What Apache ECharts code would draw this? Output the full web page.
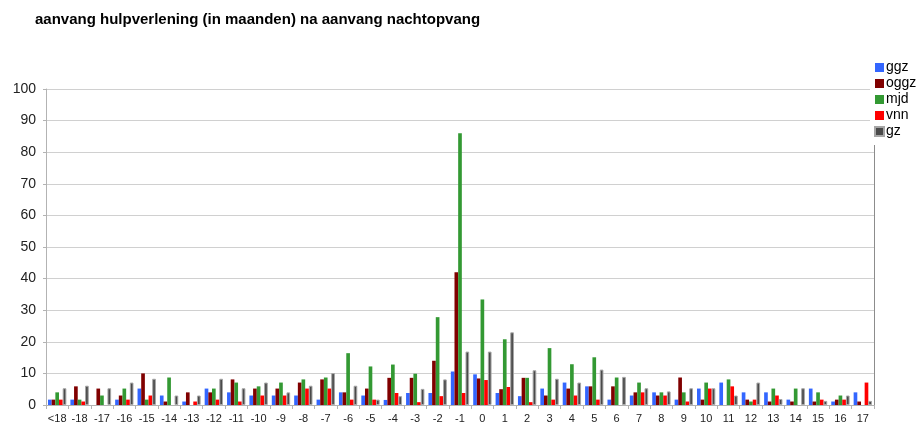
<!DOCTYPE html>
<html>
<head>
<meta charset="utf-8">
<script src="https://cdn.jsdelivr.net/npm/echarts@6/dist/echarts.min.js"></script>
<style>
  html, body { margin: 0; padding: 0; background: #fff; }
  #main { width: 922px; height: 427px; }
</style>
</head>
<body>
<div id="main"></div>
<script>
// maanden t.o.v. aanvang nachtopvang
const categories = ['<18', '-18', '-17', '-16', '-15', '-14', '-13', '-12', '-11', '-10', '-9', '-8', '-7', '-6', '-5', '-4', '-3', '-2', '-1',
  '0', '1', '2', '3', '4', '5', '6', '7', '8', '9', '10', '11', '12', '13', '14', '15', '16', '17'];

const ggz  = [1.7, 1.7, 0, 1.7, 5.2, 3, 1.1, 5.2, 4, 3, 3, 3, 1.7, 4, 3, 1.6, 3.8, 3.8, 10.6,
  9.7, 3.8, 2.8, 5.2, 7.1, 5.9, 1.7, 3, 4, 1.7, 5.2, 7.1, 4, 4, 1.7, 5.2, 1.1, 4];
const oggz = [1.7, 5.9, 5.2, 3, 10, 1.1, 4, 4, 8.1, 5.2, 5.2, 7.1, 8.1, 4, 5.2, 8.6, 8.6, 14, 42,
  8.4, 5, 8.6, 3, 5.2, 5.9, 5.9, 4, 3, 8.7, 1.7, 0, 1.7, 1.1, 1.1, 1.1, 1.7, 1.1];
const mjd  = [4, 1.7, 3, 5.2, 1.7, 8.7, 0, 5.2, 7.1, 5.9, 7.1, 8.1, 8.7, 16.4, 12.2, 12.8, 9.9, 27.8, 86,
  33.4, 20.8, 8.6, 18, 12.9, 15.1, 8.7, 7.1, 4, 4, 7.1, 8.1, 1.1, 5.2, 5.2, 4, 3, 0];
const vnn  = [1.7, 1.1, 0, 1.7, 3, 0, 1.1, 1.7, 1.1, 3, 3, 5.2, 5.2, 1.7, 1.7, 3.8, 0.9, 2.8, 3.8,
  7.9, 5.7, 0.9, 1.7, 3, 1.7, 0, 4, 3, 1.1, 5.2, 5.9, 1.7, 3, 0, 1.7, 1.7, 7.1];
const gz   = [5.3, 6.1, 5.3, 7.1, 8.3, 3, 3, 8.3, 5.3, 7.1, 4, 6.1, 10.1, 6.1, 1.7, 2.8, 5.1, 8.1, 16.9,
  16.9, 23, 11, 8.3, 7.1, 11.2, 8.9, 5.3, 4.3, 5.3, 5.3, 3, 7.1, 1.9, 5.3, 1.3, 3, 1.3];

const yTicks = { min: 0, max: 100, interval: 10 };

const chart = echarts.init(document.getElementById('main'));

function bar(name, data, color, extra) {
  return Object.assign({
    name: name,
    type: 'bar',
    data: data,
    barGap: '0%',
    barCategoryGap: '18%',
    itemStyle: { color: color },
    emphasis: { disabled: true }
  }, extra || {});
}

const option = {
  animation: false,
  textStyle: { fontFamily: '"Liberation Sans", Arial, sans-serif' },
  title: {
    text: 'aanvang hulpverlening (in maanden) na aanvang nachtopvang',
    left: 30,
    top: 7,
    textStyle: { fontSize: 15, fontWeight: 'bold', color: '#000' }
  },
  legend: {
    orient: 'vertical',
    left: 870,
    top: 57,
    padding: [3, 4, 6, 4],
    backgroundColor: '#fff',
    itemWidth: 9,
    itemHeight: 9,
    itemGap: 1,
    icon: 'rect',
    z: 10,
    textStyle: { fontSize: 14, color: '#000', padding: [0, 0, 0, -3], lineHeight: 15 },
    data: ['ggz', 'oggz', 'mjd', 'vnn', 'gz']
  },
  grid: { left: 46, right: 48, top: 89, bottom: 22, containLabel: false },
  xAxis: {
    type: 'category',
    data: categories,
    axisLine: { lineStyle: { color: '#b3b3b3', width: 1 } },
    axisTick: { show: true, length: 4, lineStyle: { color: '#b3b3b3' } },
    axisLabel: { fontSize: 11, color: '#222', margin: 8, interval: 0 }
  },
  yAxis: [{
    type: 'value',
    min: yTicks.min,
    max: yTicks.max,
    interval: yTicks.interval,
    axisLine: { show: true, lineStyle: { color: '#b3b3b3', width: 1 } },
    axisTick: { show: true, length: 3, lineStyle: { color: '#b3b3b3' } },
    axisLabel: { fontSize: 14, color: '#222', margin: 10 },
    splitLine: { lineStyle: { color: '#d0d0d0', width: 1 } }
  }, {
    type: 'value',
    position: 'right',
    min: yTicks.min,
    max: yTicks.max,
    interval: yTicks.interval,
    axisLine: { show: true, lineStyle: { color: '#8c8c8c', width: 1 } },
    axisTick: { show: false },
    axisLabel: { show: false },
    splitLine: { show: false }
  }],
  series: [
    bar('ggz', ggz, '#3366ff'),
    bar('oggz', oggz, '#800000'),
    bar('mjd', mjd, '#339933'),
    bar('vnn', vnn, '#ff0000'),
    bar('gz', gz, '#4a4a4a', { itemStyle: { color: '#4a4a4a', borderColor: '#a6a6a6', borderWidth: 1 } })
  ]
};

chart.setOption(option);
</script>
</body>
</html>
